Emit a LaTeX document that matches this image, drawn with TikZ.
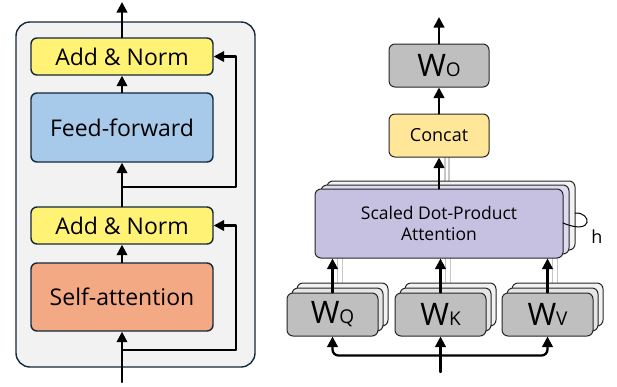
\documentclass[tikz,border=0pt]{standalone}
\usepackage{fontspec}
\setmainfont{Open Sans}
\usetikzlibrary{arrows.meta,calc}
\definecolor{nen}{HTML}{F2F2F2}
\definecolor{vien}{HTML}{14283A}
\definecolor{vang}{HTML}{FFF275}
\definecolor{xanh}{HTML}{A7C9EA}
\definecolor{cam}{HTML}{F2A984}
\definecolor{xam}{HTML}{BFBFBF}
\definecolor{kem}{HTML}{FFE699}
\definecolor{tim}{HTML}{C6C0E1}
\definecolor{timnhat}{HTML}{DEDAEF}
\begin{document}
\begin{tikzpicture}[x=1pt, y=-1pt, line join = round, line cap = round, >={Triangle[length=10.5pt,width=10.5pt]},
  khoi/.style={draw=vien, line width=1.4pt, rounded corners=6pt, minimum width=182pt, inner sep=0pt, font=\fontsize{23}{27}\selectfont},
  hop/.style={draw=black!85, line width=1pt, rounded corners=6pt, inner sep=0pt},
  mui/.style={->, line width=2.3pt},
  bong/.style={line width=1.6pt, black!22}]
\useasboundingbox (0,0) rectangle (617,386);
%Khối encoder bên trái
\draw[fill=nen, draw=vien, line width=1.4pt, rounded corners=14pt] (16,22) rectangle (255,367);
\node[khoi, fill=vang, minimum height=37pt] (an2) at (122,56.5) {Add \& Norm};
\node[khoi, fill=xanh, minimum height=69pt] (ff) at (122,127.5) {Feed-forward};
\node[khoi, fill=vang, minimum height=37pt] (an1) at (122,225.5) {Add \& Norm};
\node[khoi, fill=cam, minimum height=68pt] (sa) at (122,297) {Self-attention};
\coordinate (ra) at (122,2);
\coordinate (vao) at (122,382);
\coordinate (tach1) at (122,350);
\coordinate (tach2) at (122,187);
%Các mũi tên
\draw[mui] (an2.north) -- (ra);
\draw[mui] (ff.north) -- (an2.south);
\draw[mui] (an1.north) -- (ff.south);
\draw[mui] (sa.north) -- (an1.south);
\draw[mui] (vao) -- (sa.south);
\draw[mui] (tach2) -- ++(114,0) |- (an2.east);
\draw[mui] (tach1) -- ++(114,0) |- (an1.east);
%Multi-head attention bên phải
\draw[bong] (445,157) -- (445,183) (449,157) -- (449,181);
\foreach \cx in {332.5,440.5,547.5}
  \draw[bong] (\cx+5,258) -- (\cx+5,289) (\cx+10,254) -- (\cx+10,285);
\node[hop, fill=nen, minimum width=248pt, minimum height=69pt] (att2) at (451,215.5) {};
\node[hop, fill=timnhat, minimum width=248pt, minimum height=69pt] (att1) at (445,219.5) {};
\node[hop, fill=tim, minimum width=248pt, minimum height=69pt, align=center, font=\fontsize{17.5}{21}\selectfont] (att) at (439,223.5) {Scaled Dot-Product\\Attention};
\draw[line width=1pt] (563,223) .. controls (594,236) and (592,212) .. (575,213);
\node[font=\fontsize{18}{20}\selectfont] (h) at (597,237) {h};
\foreach \ten/\cx/\chu in {wq/332.5/Q, wk/440.5/K, wv/547.5/V}{
  \node[hop, fill=nen, minimum width=91pt, minimum height=43pt] (\ten2) at (\cx+10,304.5) {};
  \node[hop, fill=black!10, minimum width=91pt, minimum height=43pt] (\ten1) at (\cx+5,309.5) {};
  \node[hop, fill=xam, minimum width=91pt, minimum height=43pt, font=\fontsize{31}{32}\selectfont] (\ten) at (\cx,314.5) {W{\fontsize{19}{20}\selectfont\chu}};
  \draw[mui] (\ten.north) -- (\ten.north |- att.south);
}
\node[hop, fill=kem, minimum width=100pt, minimum height=43pt, font=\fontsize{18}{20}\selectfont] (concat) at (439,135.5) {Concat};
\node[hop, fill=xam, minimum width=100pt, minimum height=43pt, font=\fontsize{31}{32}\selectfont] (wo) at (439,65.5) {W{\fontsize{19}{20}\selectfont O}};
\coordinate (raR) at (439,17);
\coordinate (vaoR) at (440.5,372);
\draw[mui] (att.north) -- (concat.south);
\draw[mui] (concat.north) -- (wo.south);
\draw[mui] (wo.north) -- (raR);
\draw[mui] (vaoR) -- (wk.south);
\draw[<->, line width=2.3pt, rounded corners=6pt] (wq.south) -- ++(0,19) -| (wv.south);
\end{tikzpicture}
\end{document}
